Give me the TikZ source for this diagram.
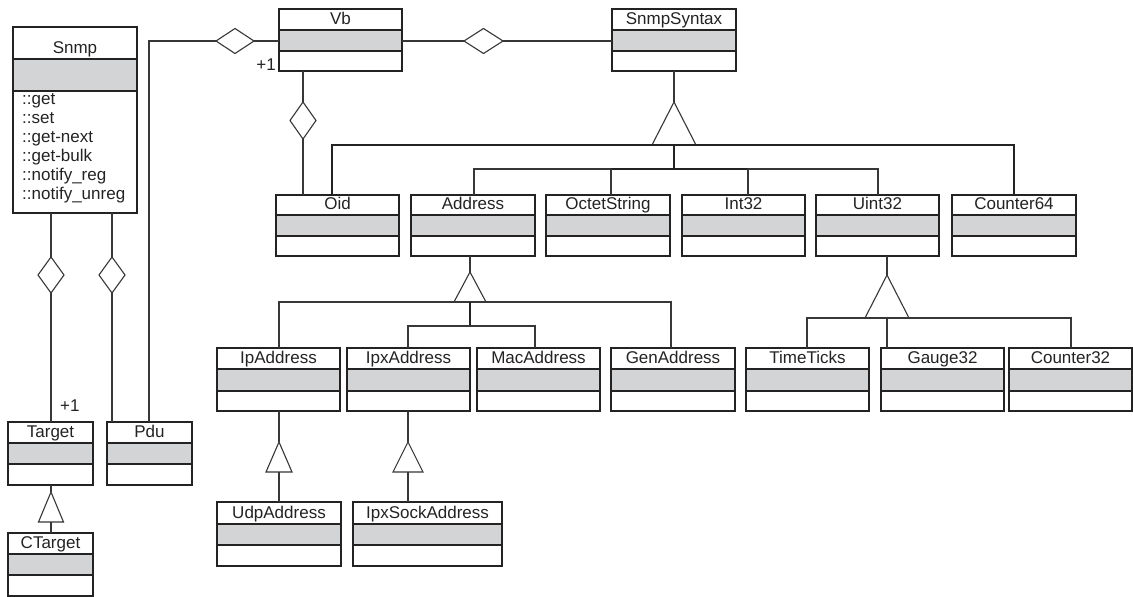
\documentclass[tikz,border=0pt]{standalone}
\usepackage{fontspec}
\setmainfont{Liberation Sans}
\usetikzlibrary{calc,shapes.geometric}

\definecolor{ink}{RGB}{35,35,35}
\definecolor{wirecol}{RGB}{55,55,55}
\definecolor{slab}{RGB}{211,212,214}

\tikzset{
  classframe/.style={rectangle, inner sep=0pt, outer sep=0pt},
  classline/.style={draw=ink, line width=1.1pt},
  classtitle/.style={anchor=base, inner sep=0pt, font=\fontsize{17}{19}\selectfont, text=ink},
  method/.style={anchor=base west, inner sep=0pt, font=\fontsize{17}{19}\selectfont, text=ink},
  mult/.style={inner sep=0pt, font=\fontsize{17}{19}\selectfont, text=ink},
  wire/.style={draw=wirecol, line width=1.1pt},
  heavywire/.style={draw=ink, line width=1.6pt},
  aggr/.style={diamond, draw=wirecol, fill=white, line width=1.1pt, inner sep=0pt, outer sep=0pt},
  gen/.style={draw=wirecol, fill=white, line width=1.1pt, line join=miter},
}

% class box: name, x, y (top), width, title h, attribute h, operation h, title
\newcommand\umlclass[8]{%
  \pgfmathsetmacro\umlh{#5+#6+#7}%
  \node[classframe, minimum width=#4pt, minimum height=\umlh pt, anchor=north west] (#1) at (#2,#3) {};
  \fill[slab] ($(#1.north west)+(0,#5)$) rectangle ($(#1.north east)+(0,#5+#6)$);
  \draw[classline] ($(#1.north west)+(0,#5)$) -- ($(#1.north east)+(0,#5)$)
                   ($(#1.north west)+(0,#5+#6)$) -- ($(#1.north east)+(0,#5+#6)$);
  \draw[classline] (#1.north west) rectangle (#1.south east);
  \node[classtitle] (#1-title) at ($(#1.north)+(0,#5-5.5)$) {#8};
}

% hollow generalization triangle: name, apex x, apex y, half base, height
\newcommand\gentri[5]{%
  \coordinate (#1) at (#2,#3);
  \coordinate (#1-base) at ($(#1)+(0,#5)$);
  \draw[gen] (#1) -- ($(#1-base)+(-#4,0)$) -- ($(#1-base)+(#4,0)$) -- cycle;
}

\begin{document}
\begin{tikzpicture}[x=1pt,y=-1pt]
\fill[white] (0,0) rectangle (1133,597);
\useasboundingbox (0,0) rectangle (1133,597);

% ---- classes ----
\umlclass{snmp}{13}{27}{124}{32}{32}{122}{Snmp}
\foreach \m [count=\i] in {::get, ::set, ::get-next, ::get-bulk, ::notify\_reg, ::notify\_unreg}
  \node[method] (snmp-m\i) at (22,{104+19*(\i-1)}) {\m};

\umlclass{vb}{279}{9}{123}{21}{21}{20}{Vb}
\umlclass{syntax}{612}{9}{124}{21}{21}{20}{SnmpSyntax}

\umlclass{oid}{276}{195}{123}{20}{21}{20}{Oid}
\umlclass{address}{411}{195}{124}{20}{21}{20}{Address}
\umlclass{octet}{546}{195}{124}{20}{21}{20}{OctetString}
\umlclass{int32}{682}{195}{123}{20}{21}{20}{Int32}
\umlclass{uint32}{816}{195}{123}{20}{21}{20}{Uint32}
\umlclass{counter64}{952}{195}{124}{20}{21}{20}{Counter64}

\umlclass{ipaddr}{217}{348}{123}{21}{22}{20}{IpAddress}
\umlclass{ipxaddr}{347}{348}{123}{21}{22}{20}{IpxAddress}
\umlclass{macaddr}{477}{348}{123}{21}{22}{20}{MacAddress}
\umlclass{genaddr}{611}{348}{124}{21}{22}{20}{GenAddress}
\umlclass{timeticks}{746}{348}{123}{21}{22}{20}{TimeTicks}
\umlclass{gauge32}{881}{348}{123}{21}{22}{20}{Gauge32}
\umlclass{counter32}{1009}{348}{123}{21}{22}{20}{Counter32}

\umlclass{udpaddr}{217}{502}{124}{22}{21}{21}{UdpAddress}
\umlclass{ipxsock}{353}{502}{149}{22}{21}{21}{IpxSockAddress}

\umlclass{target}{8}{422}{85}{21}{21}{21}{Target}
\umlclass{pdu}{107}{422}{85}{21}{21}{21}{Pdu}
\umlclass{ctarget}{8}{533}{85}{21}{21}{21}{CTarget}

% ---- aggregations ----
\node[aggr, minimum width=26pt, minimum height=36pt] (agg-target) at (51,275) {};
\node[aggr, minimum width=26pt, minimum height=36pt] (agg-pdu) at (112,275) {};
\node[aggr, minimum width=38pt, minimum height=25pt] (agg-vbpdu) at (235,41) {};
\node[aggr, minimum width=39pt, minimum height=25pt] (agg-syntax) at (483.5,41) {};
\node[aggr, minimum width=26pt, minimum height=37pt] (agg-oid) at (303,120.5) {};

\draw[wire] (snmp.south -| agg-target) -- (agg-target.north);
\draw[wire] (agg-target.south) -- (target.north -| agg-target);
\draw[wire] (snmp.south -| agg-pdu) -- (agg-pdu.north);
\draw[wire] (agg-pdu.south) -- (pdu.north -| agg-pdu);

\coordinate (pdu-bend) at (149,41);
\draw[wire] (vb.west |- agg-vbpdu) -- (agg-vbpdu.east);
\draw[wire] (agg-vbpdu.west) -- (pdu-bend) -- (pdu.north -| pdu-bend);
\draw[wire] (vb.east |- agg-syntax) -- (agg-syntax.west);
\draw[wire] (agg-syntax.east) -- (syntax.west |- agg-syntax);
\draw[wire] (vb.south -| agg-oid) -- (agg-oid.north);
\draw[wire] (agg-oid.south) -- (oid.north -| agg-oid);

\node[mult, anchor=base east] (vb-mult) at (276,70) {+1};
\node[mult, anchor=base west] (target-mult) at (60,411) {+1};

% ---- generalizations of SnmpSyntax ----
\gentri{gen-syntax}{674}{102}{22}{43}
\draw[wire] (syntax.south -| gen-syntax) -- (gen-syntax);
\coordinate (bus1-l) at (332,145);
\coordinate (bus1-r) at (1014,145);
\draw[heavywire] (oid.north -| bus1-l) -- (bus1-l) -- (bus1-r) -- (counter64.north -| bus1-r);
\coordinate (bus2-c) at (674,169);
\coordinate (bus2-a) at (474,169);
\coordinate (bus2-o) at (611,169);
\coordinate (bus2-i) at (748,169);
\coordinate (bus2-u) at (878,169);
\draw[heavywire] (gen-syntax-base) -- (bus2-c);
\draw[wire] (address.north -| bus2-a) -- (bus2-a) -- (bus2-u) -- (uint32.north -| bus2-u);
\draw[heavywire] (bus2-o) -- (bus2-i);
\draw[wire] (bus2-o) -- (octet.north -| bus2-o);
\draw[wire] (bus2-i) -- (int32.north -| bus2-i);

% ---- generalizations of Address ----
\gentri{gen-address}{470}{272}{16}{30}
\draw[wire] (address.south -| gen-address) -- (gen-address);
\coordinate (bus3-l) at (279,302);
\coordinate (bus3-r) at (671,302);
\draw[wire] (ipaddr.north -| bus3-l) -- (bus3-l) -- (bus3-r) -- (genaddr.north -| bus3-r);
\coordinate (bus4-c) at (470,326);
\coordinate (bus4-l) at (408,326);
\coordinate (bus4-r) at (535,326);
\draw[heavywire] (gen-address-base) -- (bus4-c);
\draw[wire] (ipxaddr.north -| bus4-l) -- (bus4-l) -- (bus4-r) -- (macaddr.north -| bus4-r);

% ---- generalizations of Uint32 ----
\gentri{gen-uint}{887}{275}{22}{43}
\draw[wire] (uint32.south -| gen-uint) -- (gen-uint);
\coordinate (bus5-l) at (807,318);
\coordinate (bus5-r) at (1071,318);
\draw[wire] (timeticks.north -| bus5-l) -- (bus5-l) -- (bus5-r) -- (counter32.north -| bus5-r);
\draw[wire] (gen-uint-base) -- (gauge32.north -| gen-uint-base);

% ---- single subclasses ----
\gentri{gen-ip}{279}{442}{13}{30}
\draw[wire] (ipaddr.south -| gen-ip) -- (gen-ip);
\draw[wire] (gen-ip-base) -- (udpaddr.north -| gen-ip-base);

\gentri{gen-ipx}{408}{442}{15}{30}
\draw[wire] (ipxaddr.south -| gen-ipx) -- (gen-ipx);
\draw[wire] (gen-ipx-base) -- (ipxsock.north -| gen-ipx-base);

\gentri{gen-target}{51}{492}{12.5}{30}
\draw[wire] (target.south -| gen-target) -- (gen-target);
\draw[wire] (gen-target-base) -- (ctarget.north -| gen-target-base);
\end{tikzpicture}
\end{document}
